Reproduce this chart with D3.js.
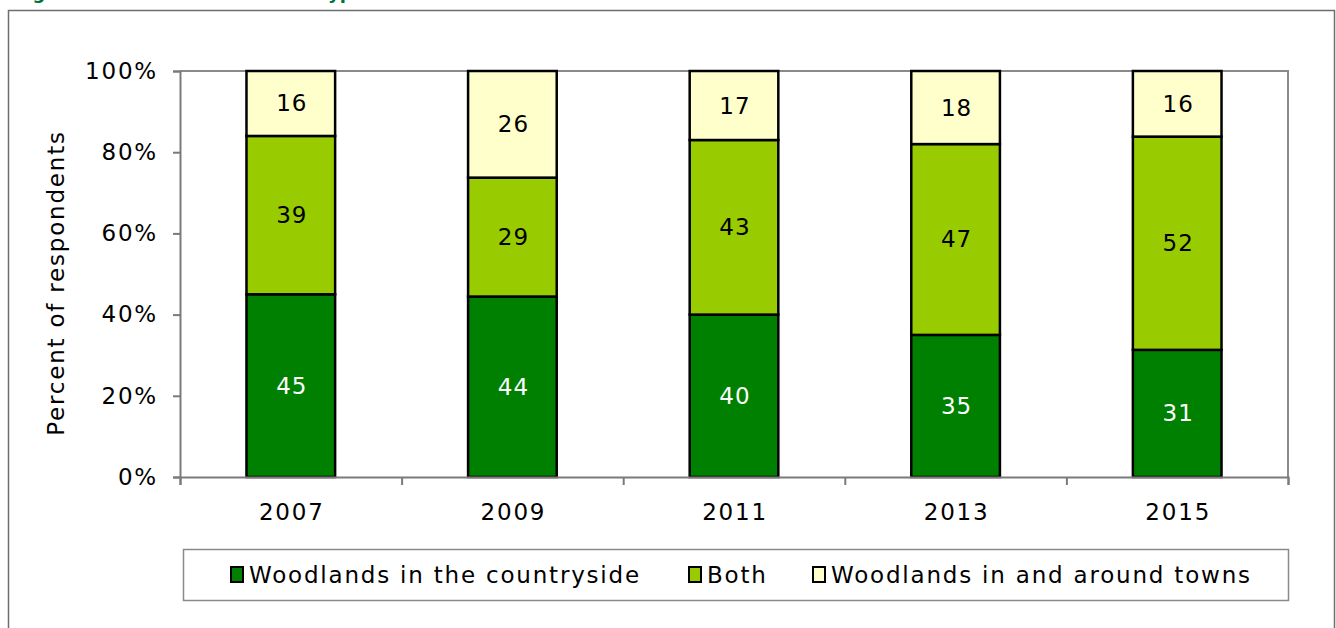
<!DOCTYPE html>
<html>
<head>
<meta charset="utf-8">
<script src="https://cdn.jsdelivr.net/npm/d3@7"></script>
<style>
  body { margin: 0; background: #fff; }
  svg { display: block; font-family: "DejaVu Sans", Verdana, sans-serif; }
  .lbl { font-family: "DejaVu Sans", Verdana, sans-serif; font-size: 23px; letter-spacing: 1.8px; }
</style>
</head>
<body>
<div id="app"></div>
<script>
const years = ["2007", "2009", "2011", "2013", "2015"]
const countryside = [45, 44, 40, 35, 31]
const both = [39, 29, 43, 47, 52]
const towns = [16, 26, 17, 18, 16]
const seriesNames = ["Woodlands in the countryside", "Both", "Woodlands in and around towns"]
const yTicks = [0, 0.2, 0.4, 0.6, 0.8, 1]

const colors = [
    "#008000", // dark green
    "#99cc00", // lime
    "#ffffcc"  // pale yellow
]
const labelColors = ["#ffffff", "#000000", "#000000"]

const keys = ["countryside", "both", "towns"]
const rows = years.map((y, i) => ({ year: y, countryside: countryside[i], both: both[i], towns: towns[i] }))

const W = 1336, H = 628
const plotLeft = 180, plotRight = 1288, plotTop = 71, plotBottom = 477

const svg = d3.select('#app')
    .append('svg')
    .attr('width', W)
    .attr('height', H)

// title, mostly cut off above the frame
svg.append('text')
    .attr('x', 14)
    .attr('y', -1)
    .attr('fill', '#00703c')
    .attr('font-weight', 'bold')
    .attr('font-size', 18)
    .text("Figure 3: Preferred woodland type")

// outer frame
svg.append('rect')
    .attr('x', 8.5).attr('y', 10.5)
    .attr('width', 1326).attr('height', 640)
    .attr('fill', 'none')
    .attr('stroke', '#6e6e6e')
    .attr('stroke-width', 1.5)

const x = d3.scaleBand()
    .domain(years)
    .range([plotLeft, plotRight])
    .paddingInner(0.6)
    .paddingOuter(0.3)

const xEdges = d3.scaleLinear().domain([0, years.length]).range([plotLeft, plotRight])

const y = d3.scaleLinear().domain([0, 1]).range([plotBottom, plotTop])

// plot area border (top / right)
svg.append('path')
    .attr('d', `M${plotLeft},${plotTop}H${plotRight}V${plotBottom}`)
    .attr('fill', 'none')
    .attr('stroke', '#8a8a8a')
    .attr('stroke-width', 2)

const stacked = d3.stack().keys(keys).offset(d3.stackOffsetExpand)(rows)

const layers = svg.selectAll('g.layer')
    .data(stacked)
    .enter()
    .append('g')
    .attr('class', 'layer')
    .attr('fill', (d, i) => colors[i])

layers.selectAll('rect')
    .data(d => d)
    .enter()
    .append('rect')
    .attr('x', d => x(d.data.year))
    .attr('y', d => y(d[1]))
    .attr('width', x.bandwidth())
    .attr('height', d => y(d[0]) - y(d[1]))
    .attr('stroke', '#000')
    .attr('stroke-width', 2.5)

layers.each(function (layer, li) {
    d3.select(this).selectAll('text')
        .data(layer)
        .enter()
        .append('text')
        .attr('class', 'lbl')
        .attr('x', d => x(d.data.year) + x.bandwidth() / 2 + 1)
        .attr('y', d => (y(d[0]) + y(d[1])) / 2)
        .attr('text-anchor', 'middle')
        .attr('dominant-baseline', 'central')
        .style('letter-spacing', '1px')
        .attr('fill', labelColors[li])
        .text(d => d.data[layer.key])
})

// y axis
const yAxis = d3.axisLeft(y)
    .tickValues(yTicks)
    .tickFormat(d3.format('.0%'))
    .tickSize(7)
    .tickPadding(15)

const gy = svg.append('g')
    .attr('transform', `translate(${plotLeft},0)`)
    .call(yAxis)
    .attr('font-family', null)
    .attr('font-size', null)
gy.selectAll('path, line').attr('stroke', '#7a7a7a').attr('stroke-width', 2)
gy.selectAll('text').attr('class', 'lbl').attr('fill', '#000')

// x axis: ticks at category boundaries, labels at centres
const gxTicks = svg.append('g')
    .attr('transform', `translate(0,${plotBottom})`)
    .call(d3.axisBottom(xEdges).tickValues(d3.range(years.length + 1)).tickFormat('').tickSize(8))
gxTicks.selectAll('path, line').attr('stroke', '#7a7a7a').attr('stroke-width', 2)

const gx = svg.append('g')
    .attr('transform', `translate(1,${plotBottom})`)
    .call(d3.axisBottom(x).tickSize(0).tickPadding(27))
    .attr('font-family', null)
    .attr('font-size', null)
gx.select('.domain').remove()
gx.selectAll('text').attr('class', 'lbl').attr('fill', '#000')

// y axis title
svg.append('text')
    .attr('class', 'lbl')
    .attr('transform', `translate(56,283) rotate(-90)`)
    .attr('text-anchor', 'middle')
    .attr('dominant-baseline', 'central')
    .text("Percent of respondents")

// legend
const legend = svg.append('g')
legend.append('rect')
    .attr('x', 183.5).attr('y', 549.5)
    .attr('width', 1105).attr('height', 51)
    .attr('fill', '#fff')
    .attr('stroke', '#8a8a8a')
    .attr('stroke-width', 1.5)

const legendX = [230, 688, 812]
const item = legend.selectAll('g.item')
    .data(seriesNames)
    .enter()
    .append('g')
    .attr('class', 'item')
    .attr('transform', (d, i) => `translate(${legendX[i]},575)`)

item.append('rect')
    .attr('x', 1).attr('y', -8)
    .attr('width', 12).attr('height', 15)
    .attr('fill', (d, i) => colors[i])
    .attr('stroke', '#000')
    .attr('stroke-width', 2)

item.append('text')
    .attr('class', 'lbl')
    .attr('x', 19)
    .attr('y', 0)
    .attr('dominant-baseline', 'central')
    .text(d => d)
</script>
</body>
</html>
